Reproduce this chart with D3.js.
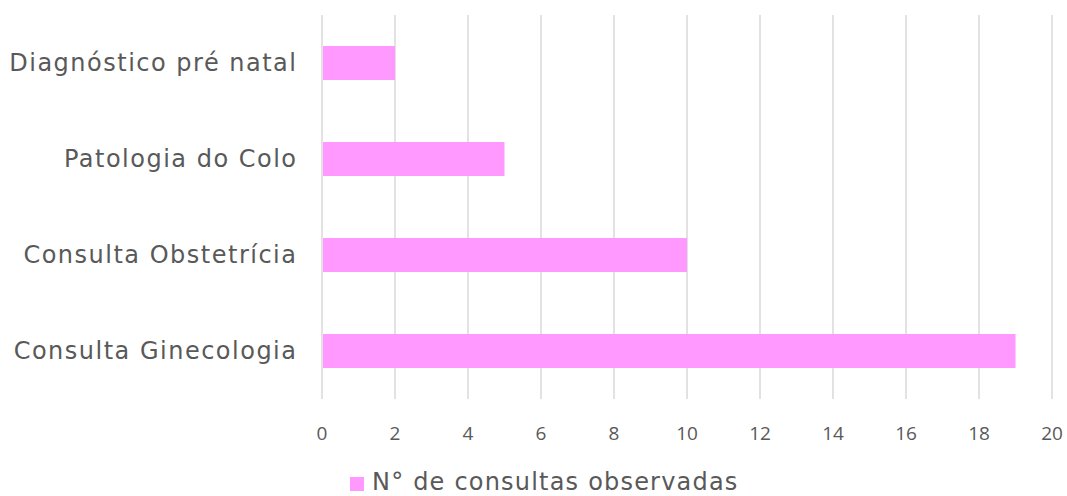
<!DOCTYPE html>
<html><head><meta charset="utf-8">
<script src="https://cdn.jsdelivr.net/npm/d3@7"></script>
<style>body{margin:0;background:#fff}</style>
</head><body>
<svg id="c" width="1067" height="496"></svg>
<script>
const categories = ["Diagnóstico pré natal", "Patologia do Colo", "Consulta Obstetrícia", "Consulta Ginecologia"];
const values = [2, 5, 10, 19];
const xTicks = [0, 2, 4, 6, 8, 10, 12, 14, 16, 18, 20];
const seriesName = "N° de consultas observadas";

(function () {
const svg = d3.select("#c");
const pLeft = 322, pRight = 1052, pTop = 15, pBottom = 399;
const x = d3.scaleLinear().domain([0, 20]).range([pLeft, pRight]);
const y = d3.scaleBand().domain(categories).range([pTop, pBottom]).paddingInner(0.646).paddingOuter(0.323);

svg.append("g").selectAll("line").data(xTicks).join("line")
  .attr("x1", d => x(d)).attr("x2", d => x(d))
  .attr("y1", pTop).attr("y2", pBottom)
  .attr("stroke", "#d9d9d9").attr("stroke-width", 1.5);

svg.append("g").selectAll("rect").data(values).join("rect")
  .attr("x", x(0) + 1).attr("y", (d, i) => y(categories[i]))
  .attr("width", d => x(d) - x(0) - 1).attr("height", y.bandwidth())
  .attr("fill", "#ff99ff");

svg.append("g").selectAll("text").data(categories).join("text")
  .attr("x", 297.5).attr("y", d => y(d) + y.bandwidth() / 2)
  .attr("dy", "0.35em").attr("text-anchor", "end")
  .attr("font-family", "DejaVu Sans").attr("font-size", 24).attr("letter-spacing", 1.5)
  .attr("fill", "#595959")
  .text(d => d);

svg.append("g").selectAll("text").data(xTicks).join("text")
  .attr("x", d => x(d)).attr("y", 440).attr("text-anchor", "middle")
  .attr("font-family", "Open Sans").attr("font-size", 19).attr("fill", "#595959")
  .text(d => d);

svg.append("rect").attr("x", 350).attr("y", 477).attr("width", 14).attr("height", 14).attr("fill", "#ff99ff");
svg.append("text").attr("x", 372).attr("y", 490)
  .attr("font-family", "DejaVu Sans").attr("font-size", 24).attr("letter-spacing", 1.2)
  .attr("fill", "#595959")
  .text(seriesName);
})();
</script>
</body></html>
